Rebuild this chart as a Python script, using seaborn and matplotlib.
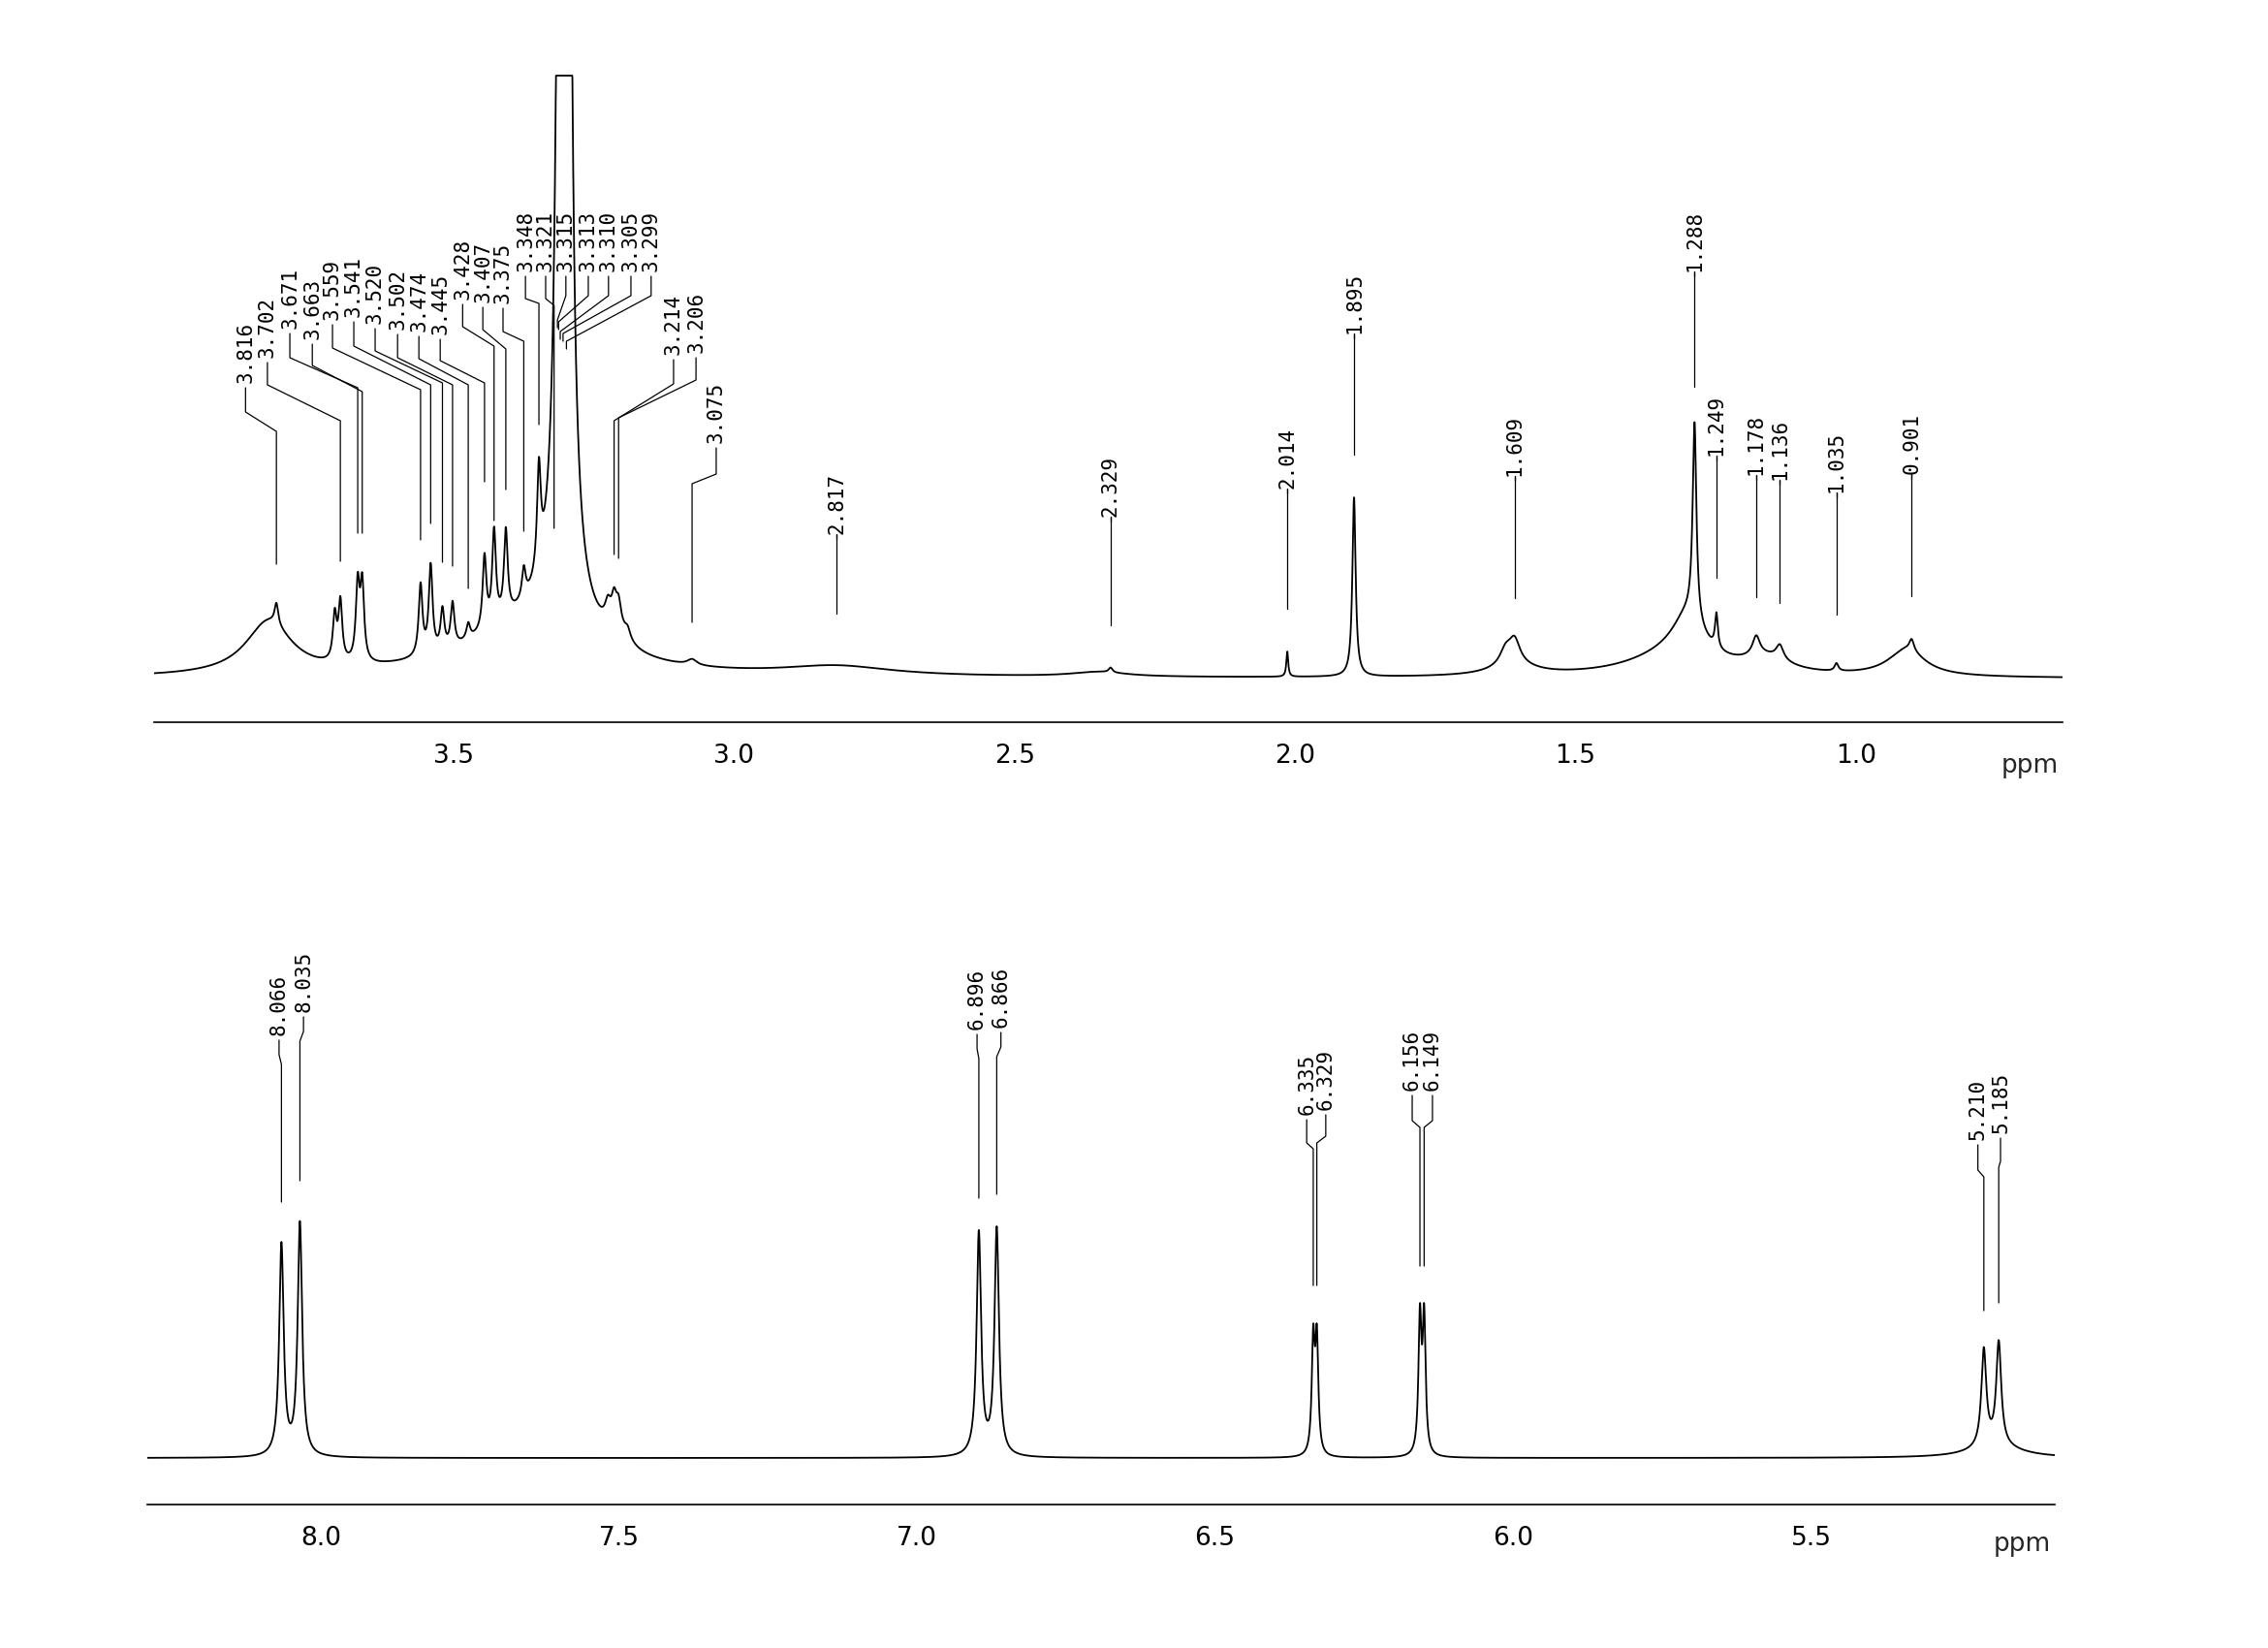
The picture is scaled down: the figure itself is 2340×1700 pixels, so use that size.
import numpy as np
import pandas as pd
import matplotlib
matplotlib.use("Agg")
import matplotlib.pyplot as plt
import seaborn as sns
from matplotlib.ticker import FixedLocator, MultipleLocator

# -----------------------------------------------------------
# Peak tables (ppm, height above baseline, half width)
# -----------------------------------------------------------
# upper trace, 4.0 - 0.6 ppm
top_lines_ppm = [3.816, 3.712, 3.702, 3.671, 3.663, 3.559, 3.541, 3.520, 3.502,
                 3.474, 3.445, 3.428, 3.407, 3.375, 3.348, 3.303, 3.225, 3.214,
                 3.206, 3.190, 3.075, 2.329, 2.014, 1.895, 1.625, 1.609, 1.288,
                 1.249, 1.178, 1.136, 1.035, 0.901]
top_lines_height = [22, 47, 61, 78, 78, 73, 90, 41, 45,
                    16, 75, 95, 88, 31, 106, 20000, 18, 22,
                    20, 10, 6, 5, 26, 185, 15, 25, 204,
                    35, 20, 15, 8, 12]
top_lines_width = [0.004, 0.004, 0.004, 0.004, 0.004, 0.004, 0.004, 0.004, 0.004,
                   0.004, 0.004, 0.004, 0.004, 0.004, 0.004, 0.0025, 0.006, 0.005,
                   0.005, 0.006, 0.01, 0.004, 0.002, 0.0035, 0.012, 0.012, 0.004,
                   0.003, 0.008, 0.008, 0.004, 0.005]

# broad humps under the upper trace
top_humps_ppm = [3.830, 3.370, 3.300, 3.210, 2.817, 2.350, 1.610, 1.300, 1.330, 1.160, 0.910]
top_humps_height = [55, 50, 15, 20, 10, 5, 10, 45, 20, 15, 28]
top_humps_width = [0.05, 0.13, 0.06, 0.02, 0.12, 0.06, 0.05, 0.035, 0.1, 0.05, 0.04]

# lower trace, 8.3 - 5.1 ppm
bot_lines_ppm = [8.066, 8.035, 6.896, 6.866, 6.335, 6.329, 6.156, 6.149, 5.210, 5.185]
bot_lines_height = [218, 240, 230, 234, 115, 115, 138, 138, 100, 106]
bot_lines_width = [0.0045, 0.0045, 0.0045, 0.0045, 0.003, 0.003, 0.003, 0.003, 0.005, 0.005]

bot_humps_ppm = [5.190]
bot_humps_height = [12]
bot_humps_width = [0.05]

# peak-pick labels
top_labels = ["3.816", "3.702", "3.671", "3.663", "3.559", "3.541", "3.520", "3.502",
              "3.474", "3.445", "3.428", "3.407", "3.375", "3.348", "3.321", "3.315",
              "3.313", "3.310", "3.305", "3.299", "3.214", "3.206", "3.075",
              "2.817", "2.329", "2.014", "1.895", "1.609", "1.288", "1.249",
              "1.178", "1.136", "1.035", "0.901"]
bot_labels = ["8.066", "8.035", "6.896", "6.866", "6.335", "6.329",
              "6.156", "6.149", "5.210", "5.185"]

# axis ticks
top_major_ticks = [4.0, 3.5, 3.0, 2.5, 2.0, 1.5, 1.0]
top_tick_labels = ["", "3.5", "3.0", "2.5", "2.0", "1.5", "1.0"]
bot_major_ticks = [8.0, 7.5, 7.0, 6.5, 6.0, 5.5]
bot_tick_labels = ["8.0", "7.5", "7.0", "6.5", "6.0", "5.5"]

# -----------------------------------------------------------
# Label layout: text x (ppm), text bottom, knee 1, knee 2, line end (px above baseline)
# -----------------------------------------------------------
top_label_x = [3.871, 3.832, 3.792, 3.752, 3.716, 3.678, 3.640, 3.600, 3.562, 3.524,
               3.484, 3.448, 3.412, 3.372, 3.336, 3.300, 3.260, 3.224, 3.184, 3.148,
               3.108, 3.068, 3.032,
               2.817, 2.329, 2.014, 1.895, 1.609, 1.288, 1.249, 1.178, 1.136, 1.035, 0.901]
top_label_y = [305, 331, 361, 350, 370, 373, 366, 360, 358, 355,
               391, 388, 387, 420, 420, 420, 420, 420, 420, 420,
               334, 336, 243,
               149, 167, 196, 356, 209, 420, 230, 210, 205, 192, 211]
top_knee1 = [275, 303, 331, 323, 341, 343, 338, 331, 330, 328,
             363, 360, 358, 392, 392, 395, 395, 395, 395, 395,
             304, 308, 211,
             149, 167, 196, 356, 209, 420, 230, 210, 205, 192, 211]
top_knee2 = [255, 266, 300, 296, 298, 303, 305, 303, 303, 305,
             343, 340, 348, 387, 385, 370, 368, 358, 356, 348,
             266, 269, 201,
             149, 167, 196, 356, 209, 420, 230, 210, 205, 192, 211]
top_line_end = [118, 121, 150, 150, 143, 160, 120, 116, 93, 203,
                163, 195, 152, 262, 155, 362, 360, 350, 348, 340,
                128, 124, 58,
                67, 55, 72, 231, 83, 301, 104, 84, 78, 66, 85]

bot_label_x = [8.070, 8.029, 6.899, 6.859, 6.346, 6.314, 6.169, 6.135, 5.220, 5.182]
bot_label_y = [436, 460, 442, 444, 354, 359, 379, 379, 328, 335]
bot_knee1 = [416, 440, 422, 424, 325, 332, 348, 348, 297, 306]
bot_knee2 = [406, 430, 412, 414, 319, 325, 341, 341, 290, 300]
bot_line_end = [264, 286, 268, 272, 178, 178, 198, 198, 152, 160]


def spectrum(ppm, centers, heights, widths):
    out = np.zeros_like(ppm)
    for c, h, w in zip(centers, heights, widths):
        out += h * w ** 2 / (w ** 2 + (ppm - c) ** 2)
    return out


sns.set_style("white")
plt.rcParams["font.family"] = ["DejaVu Sans"]

fig = plt.figure(figsize=(23.4, 17), dpi=100)
W, H = 2340, 1700

# upper panel: axis line at y=745 px, spans x 159..2128 px
ax_top = fig.add_axes([159 / W, (H - 745) / H, 1969 / W, 669 / H])
# lower panel: axis line at y=1552 px, spans x 152..2120 px
ax_bot = fig.add_axes([152 / W, (H - 1552) / H, 1968 / W, 608 / H])

TOP_CLIP = 622

panels = [
    (ax_top, (4.034, 0.632), (-45, TOP_CLIP + 2),
     top_lines_ppm + top_humps_ppm, top_lines_height + top_humps_height,
     top_lines_width + top_humps_width,
     top_labels, top_label_x, top_label_y, top_knee1, top_knee2, top_line_end,
     top_major_ticks, top_tick_labels),
    (ax_bot, (8.291, 5.091), (-48, 560),
     bot_lines_ppm + bot_humps_ppm, bot_lines_height + bot_humps_height,
     bot_lines_width + bot_humps_width,
     bot_labels, bot_label_x, bot_label_y, bot_knee1, bot_knee2, bot_line_end,
     bot_major_ticks, bot_tick_labels),
]

for (ax, xlim, ylim, cen, hgt, wid, labels, lx, ly, k1, k2, lend,
     majors, major_labels) in panels:
    ppm = np.linspace(xlim[0], xlim[1], 12000)
    inten = np.minimum(spectrum(ppm, cen, hgt, wid), TOP_CLIP)
    df = pd.DataFrame({"ppm": ppm, "intensity": inten})
    sns.lineplot(data=df, x="ppm", y="intensity", ax=ax, color="black",
                 linewidth=1.3, sort=False, estimator=None)

    # peak-pick labels with leader lines
    for lab, tx, ty, a, b, e in zip(labels, lx, ly, k1, k2, lend):
        px = float(lab)
        ax.plot([tx, tx, px, px], [ty - 5, a, b, e], color="black",
                linewidth=0.9, clip_on=False)
        ax.text(tx, ty, lab, rotation=90, ha="center", va="bottom",
                family="DejaVu Sans Mono", fontsize=15, color="black")

    ax.set_xlim(*xlim)
    ax.set_ylim(*ylim)
    ax.set_xlabel("")
    ax.set_ylabel("")
    ax.set_yticks([])
    for side in ["top", "left", "right"]:
        ax.spines[side].set_visible(False)
    ax.spines["bottom"].set_color("black")
    ax.spines["bottom"].set_linewidth(1.2)
    ax.xaxis.set_major_locator(FixedLocator(majors))
    ax.set_xticklabels(major_labels)
    ax.xaxis.set_minor_locator(MultipleLocator(0.1))
    ax.tick_params(axis="x", which="major", direction="out", length=10,
                   width=1.0, pad=6, labelsize=19, colors="black")
    ax.tick_params(axis="x", which="minor", direction="out", length=6,
                   width=1.0, colors="black")
    ax.patch.set_alpha(0)
    ax.text(0.983, -0.068, "ppm", transform=ax.transAxes, ha="center",
            va="center", fontsize=19)

fig.savefig("out.png", dpi=100, facecolor="white")
